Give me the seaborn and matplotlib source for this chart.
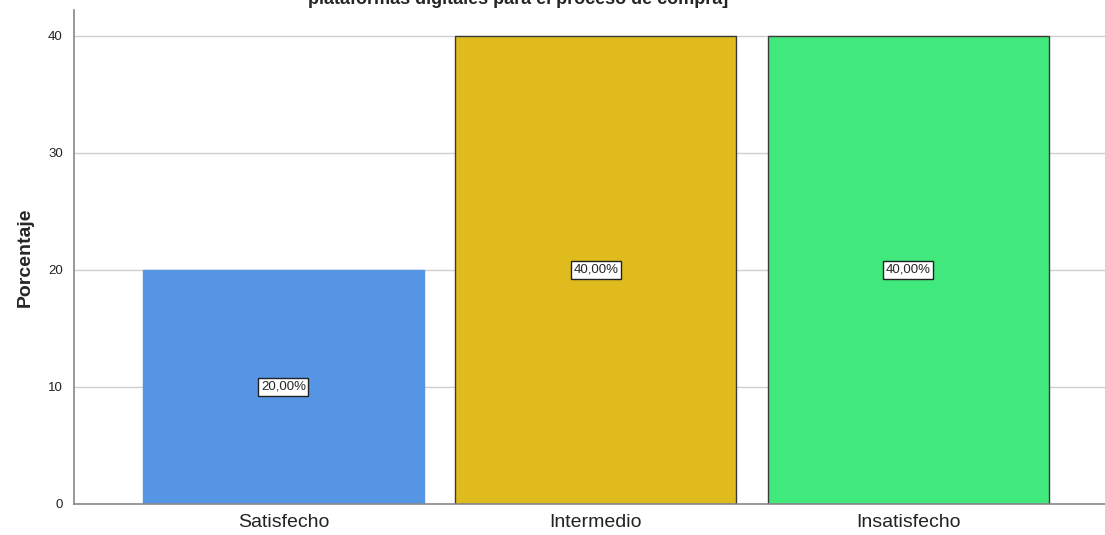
import pandas as pd
import seaborn as sns
import matplotlib.pyplot as plt

# Data
categorias = ["Satisfecho", "Intermedio", "Insatisfecho"]
porcentajes = [20.0, 40.0, 40.0]
colores = ["#5595E3", "#E0BB1E", "#41E97D"]
bordes = ["#5595E3", "#3a3a3a", "#3a3a3a"]
titulo = "plataformas digitales para el proceso de compra]"

df = pd.DataFrame({"categoria": categorias, "porcentaje": porcentajes})

sns.set_style("white")
plt.rcParams["font.family"] = ["Liberation Sans", "DejaVu Sans"]

fig = plt.figure(figsize=(11.05, 5.35), dpi=100)
ax = fig.add_axes([74 / 1105, 31 / 535, 1 - 74 / 1105, (504 - 10) / 535 - 0.0001])

sns.barplot(data=df, x="categoria", y="porcentaje", hue="categoria",
            palette=colores, width=0.9, saturation=1, legend=False, ax=ax, zorder=2)

for patch, ec in zip(ax.patches, bordes):
    patch.set_edgecolor(ec)
    patch.set_linewidth(1.0)

for i, v in enumerate(porcentajes):
    ax.text(i, v / 2, f"{v:.2f}%".replace(".", ","), ha="center", va="center",
            fontsize=9.5, zorder=4,
            bbox=dict(boxstyle="square,pad=0.2", fc="white", ec="#222222", lw=1.0))

ax.set_xlim(-0.67, 2.63)
ax.set_ylim(0, 42.2)
ax.set_yticks([0, 10, 20, 30, 40])
ax.yaxis.grid(True, color="#cfcfcf", lw=1, zorder=0)
ax.set_axisbelow(True)

for s in ["top", "right"]:
    ax.spines[s].set_visible(False)
for s in ["left", "bottom"]:
    ax.spines[s].set_color("#888888")
    ax.spines[s].set_linewidth(1.2)

ax.tick_params(axis="y", labelsize=9.5, length=0, pad=8, colors="#222222")
ax.tick_params(axis="x", labelsize=14, length=0, pad=7, colors="#222222")

ax.set_xlabel("")
ax.set_ylabel("Porcentaje", fontsize=14, fontweight="bold", labelpad=10)

# title is partly off the top edge, as in the original export
fig.text(518 / 1105, 1.0 + 1 / 535, titulo, ha="center", va="center",
         fontsize=13, fontweight="bold")

fig.savefig("out.png", dpi=100)
